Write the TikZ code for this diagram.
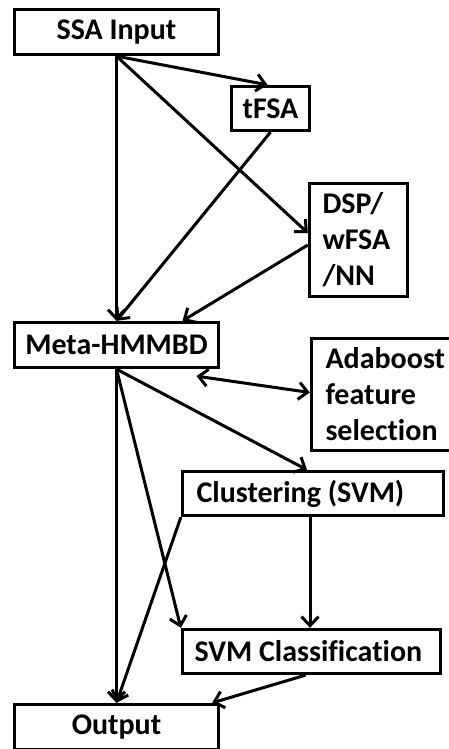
\documentclass[tikz,border=0pt]{standalone}
\usepackage{fontspec}
\setmainfont{Carlito}[Ligatures=NoCommon]
\usetikzlibrary{arrows.meta}

\tikzset{
  box/.style={draw, line width=3.3pt, inner sep=0pt,
    font=\bfseries\fontsize{30}{36}\selectfont},
  barb/.tip={Straight Barb[length=9pt,width=17pt,line width=3pt]},
  flow/.style={line width=3pt, -barb},
  biflow/.style={line width=3pt, barb-barb},
}

\begin{document}
\begin{tikzpicture}[x=1pt,y=-1pt]
  \useasboundingbox (0,0) rectangle (449,749);
  \clip (0,0) rectangle (449,749);

  % boxes
  \node[box, minimum width=204pt, minimum height=45pt] (ssa) at (116.5,32) {SSA Input};
  \node[box, minimum width=78pt, minimum height=44pt] (tfsa) at (270.5,108.5) {tFSA};
  \node[box, minimum width=98pt, minimum height=113pt, text width=72pt, align=left]
    (dsp) at (358.5,240) {DSP/\\wFSA\\/NN};
  \node[box, minimum width=204pt, minimum height=45pt] (meta) at (116.5,345) {Meta-HMMBD};
  \node[box, minimum width=152pt, minimum height=112pt, text width=124pt, align=left]
    (ada) at (387.5,394.5) {Adaboost\\feature\\selection};
  \node[box, minimum width=261pt, minimum height=44pt]
    (clus) at (313,493.5) {\makebox[233pt][l]{Clustering (SVM)}};
  \node[box, minimum width=258pt, minimum height=44pt]
    (svmc) at (311.5,651.5) {\makebox[234pt][l]{SVM Classification}};
  \node[box, minimum width=204pt, minimum height=45pt] (out) at (116.5,727) {Output};

  % connectors
  \draw[flow] (ssa.south) -- ([xshift=-3pt]tfsa.north);
  \draw[flow] (ssa.south) -- (meta.north);
  \draw[flow] (ssa.south) -- ([yshift=7pt]dsp.west);
  \draw[flow] (tfsa.south) -- (meta.north);
  \draw[flow] ([yshift=-5pt]dsp.west) -- ([xshift=66pt]meta.north);
  \draw[biflow] ([xshift=80pt,yshift=-7pt]meta.south) -- ([yshift=2pt]ada.west);
  \draw[flow] (meta.south) -- ([xshift=-6pt]clus.north);
  \draw[flow] (meta.south) -- (out.north);
  \draw[flow] (meta.south) -- (svmc.north west);
  \draw[flow] (clus.south west) -- (out.north);
  \draw[flow] ([xshift=-3pt]clus.south) -- ([xshift=-3pt]clus.south |- svmc.north);
  \draw[flow] ([xshift=-6pt]svmc.south) -- ([xshift=-8pt]out.north east);
\end{tikzpicture}
\end{document}
